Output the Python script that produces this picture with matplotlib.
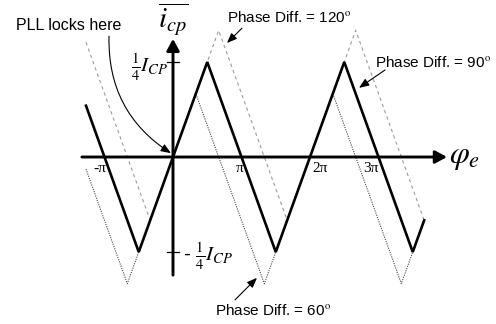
import matplotlib
matplotlib.use("Agg")
import matplotlib.pyplot as plt

plt.rcParams['mathtext.fontset'] = 'stix'
plt.rcParams['font.family'] = ['Liberation Sans', 'DejaVu Sans']

# corner points of each curve: phase in units of pi, current in units of I_CP
phase_90 = [-1.27, -0.5, 0.5, 1.5, 2.5, 3.5, 11 / 3]
icp_90 = [0.135, -0.25, 0.25, -0.25, 0.25, -0.25, -1 / 6]

phase_120 = [-1.27, -1 / 3, 2 / 3, 5 / 3, 8 / 3, 11 / 3]
icp_120 = [0.302, -1 / 6, 1 / 3, -1 / 6, 1 / 3, -1 / 6]

phase_60 = [-1.27, -2 / 3, 1 / 3, 4 / 3, 7 / 3, 10 / 3, 11 / 3]
icp_60 = [-0.032, -1 / 3, 1 / 6, -1 / 3, 1 / 6, -1 / 3, -1 / 6]

pi_ticks = [-1, 1, 2, 3]
pi_labels = ['-π', 'π', '2π', '3π']
pi_align = ['right', 'right', 'left', 'right']
pi_offset = [0.03, 0.03, 0.03, 0.0]

icp_ticks = [0.25, -0.25]

fig = plt.figure(figsize=(4.96, 3.24), dpi=100)
ax = fig.add_axes([0, 0, 1, 1])
ax.set_xlim(-2.5255, 4.7153)
ax.set_ylim(-0.4395, 0.4132)
ax.axis('off')

# axes with arrow heads
axis_arrow = dict(arrowstyle='-|>,head_length=0.7,head_width=0.38', lw=2.1,
                  color='black', shrinkA=0, shrinkB=0, mutation_scale=10)
ax.annotate('', xy=(4.0, 0), xytext=(-1.33, 0), arrowprops=axis_arrow)
ax.annotate('', xy=(0, 0.311), xytext=(0, -0.311), arrowprops=axis_arrow)

for t in icp_ticks:
    ax.plot([-0.088, 0.088], [t, t], color='black', lw=0.9)

ax.plot(phase_120, icp_120, color='#9a9a9a', lw=0.8, ls=(0, (3, 3)))
ax.plot(phase_60, icp_60, color='#4a4a4a', lw=0.8, ls=(0, (1, 1.1)))
ax.plot(phase_90, icp_90, color='black', lw=1.9, solid_joinstyle='miter')

for x, lab, ha, off in zip(pi_ticks, pi_labels, pi_align, pi_offset):
    ax.text(x + off, -0.012, lab, ha=ha, va='top',
            family='Liberation Serif', fontsize=11)

ax.text(4.03, 0.0, r'$\varphi_e$', ha='left', va='center', fontsize=23)
ax.text(0.0, 0.362, r'$\overline{i_{cp}}$', ha='center', va='center', fontsize=21)
ax.text(-0.07, 0.237, r'$\frac{1}{4}I_{CP}$', ha='right', va='center', fontsize=15)
ax.text(0.14, -0.26, r'- $\frac{1}{4}I_{CP}$', ha='left', va='center', fontsize=15)

small_arrow = dict(arrowstyle='-|>,head_length=0.5,head_width=0.2', lw=0.8,
                   color='black', shrinkA=0, shrinkB=0, mutation_scale=12)

ax.text(-2.292, 0.334, 'PLL locks here', ha='left', va='baseline', fontsize=11.5)
ax.annotate('', xy=(-0.03, 0.01), xytext=(-0.934, 0.318),
            arrowprops=dict(small_arrow, connectionstyle='arc3,rad=0.28'))

deg = r'$^{\mathrm{o}}$'
ax.text(0.788, 0.355, 'Phase Diff. = 120' + deg, ha='left', va='baseline', fontsize=11)
ax.annotate('', xy=(0.788, 0.300), xytext=(1.007, 0.339), arrowprops=small_arrow)

ax.text(2.949, 0.237, 'Phase Diff. = 90' + deg, ha='left', va='baseline', fontsize=11)
ax.annotate('', xy=(2.715, 0.182), xytext=(3.095, 0.229), arrowprops=small_arrow)

ax.text(0.613, -0.416, 'Phase Diff. = 60' + deg, ha='left', va='baseline', fontsize=11)
ax.annotate('', xy=(1.226, -0.318), xytext=(0.905, -0.376), arrowprops=small_arrow)

fig.savefig('out.png', dpi=100)
